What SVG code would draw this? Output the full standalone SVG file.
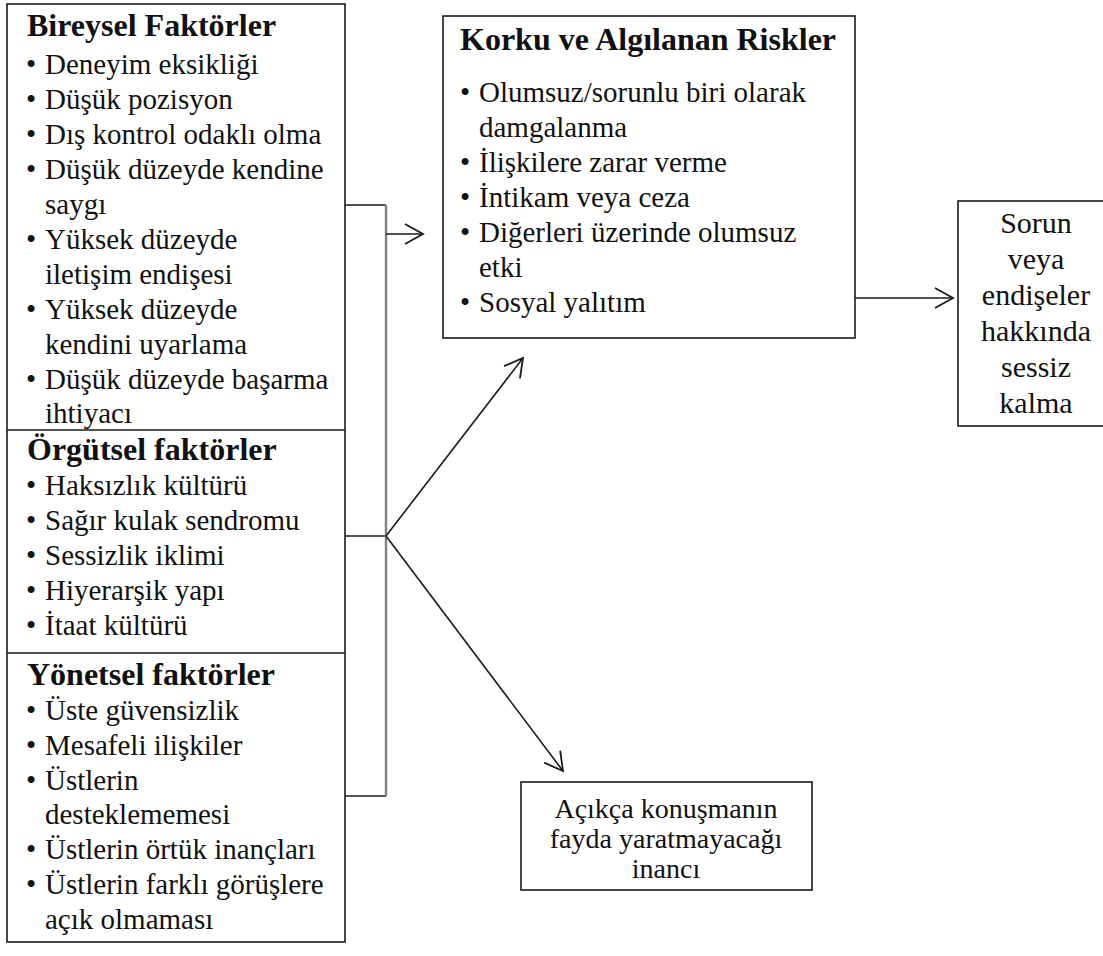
<svg xmlns="http://www.w3.org/2000/svg" width="1103" height="956" viewBox="0 0 1103 956">
<style>
.box{fill:#fff;stroke:#1a1a1a;stroke-width:1.6}
.div{stroke:#1a1a1a;stroke-width:1.6}
text{font-family:"Liberation Serif",Tinos,"Times New Roman","Noto Serif","DejaVu Serif",serif;fill:#111}
.h{font-weight:bold;font-size:32px}
.t{font-size:29px}
.c{font-size:30px;text-anchor:middle}
.c2{font-size:28px;text-anchor:middle}
.ln{fill:none;stroke:#1a1a1a;stroke-width:1.6}
.br{fill:none;stroke:#808080;stroke-width:2.4}
</style>
<defs>
<marker id="arr" markerUnits="userSpaceOnUse" markerWidth="22" markerHeight="24" refX="19" refY="11" orient="auto" viewBox="0 0 22 24">
<path d="M1,1 L19,11 L1,21" fill="none" stroke="#1a1a1a" stroke-width="1.8"/>
</marker>
</defs>

<g id="left-factors">
<rect class="box" x="7" y="4" width="338" height="938"/>
<line class="div" x1="7" y1="430" x2="345" y2="430"/>
<line class="div" x1="7" y1="653" x2="345" y2="653"/>
</g>

<g id="bireysel">
<text class="h" x="27" y="36">Bireysel Faktörler</text>
<text class="t" x="26" y="74">•</text><text class="t" x="45" y="74">Deneyim eksikliği</text>
<text class="t" x="26" y="109">•</text><text class="t" x="45" y="109">Düşük pozisyon</text>
<text class="t" x="26" y="144">•</text><text class="t" x="45" y="144">Dış kontrol odaklı olma</text>
<text class="t" x="26" y="179">•</text><text class="t" x="45" y="179">Düşük düzeyde kendine</text>
<text class="t" x="45" y="214">saygı</text>
<text class="t" x="26" y="249">•</text><text class="t" x="45" y="249">Yüksek düzeyde</text>
<text class="t" x="45" y="284">iletişim endişesi</text>
<text class="t" x="26" y="319">•</text><text class="t" x="45" y="319">Yüksek düzeyde</text>
<text class="t" x="45" y="354">kendini uyarlama</text>
<text class="t" x="26" y="389">•</text><text class="t" x="45" y="389">Düşük düzeyde başarma</text>
<text class="t" x="45" y="423">ihtiyacı</text>
</g>

<g id="orgutsel">
<text class="h" x="27" y="460">Örgütsel faktörler</text>
<text class="t" x="26" y="495">•</text><text class="t" x="45" y="495">Haksızlık kültürü</text>
<text class="t" x="26" y="530">•</text><text class="t" x="45" y="530">Sağır kulak sendromu</text>
<text class="t" x="26" y="565">•</text><text class="t" x="45" y="565">Sessizlik iklimi</text>
<text class="t" x="26" y="600">•</text><text class="t" x="45" y="600">Hiyerarşik yapı</text>
<text class="t" x="26" y="635">•</text><text class="t" x="45" y="635">İtaat kültürü</text>
</g>

<g id="yonetsel">
<text class="h" x="27" y="685">Yönetsel faktörler</text>
<text class="t" x="26" y="720">•</text><text class="t" x="45" y="720">Üste güvensizlik</text>
<text class="t" x="26" y="755">•</text><text class="t" x="45" y="755">Mesafeli ilişkiler</text>
<text class="t" x="26" y="790">•</text><text class="t" x="45" y="790">Üstlerin</text>
<text class="t" x="45" y="824">desteklememesi</text>
<text class="t" x="26" y="859">•</text><text class="t" x="45" y="859">Üstlerin örtük inançları</text>
<text class="t" x="26" y="894">•</text><text class="t" x="45" y="894">Üstlerin farklı görüşlere</text>
<text class="t" x="45" y="929">açık olmaması</text>
</g>

<g id="korku">
<rect class="box" x="443" y="16" width="412" height="322"/>
<text class="h" x="460" y="50">Korku ve Algılanan Riskler</text>
<text class="t" x="460" y="102">•</text><text class="t" x="479" y="102">Olumsuz/sorunlu biri olarak</text>
<text class="t" x="479" y="137">damgalanma</text>
<text class="t" x="460" y="172">•</text><text class="t" x="479" y="172">İlişkilere zarar verme</text>
<text class="t" x="460" y="207">•</text><text class="t" x="479" y="207">İntikam veya ceza</text>
<text class="t" x="460" y="242">•</text><text class="t" x="479" y="242">Diğerleri üzerinde olumsuz</text>
<text class="t" x="479" y="277">etki</text>
<text class="t" x="460" y="312">•</text><text class="t" x="479" y="312">Sosyal yalıtım</text>
</g>

<g id="sorun">
<rect class="box" x="958" y="201" width="156" height="225"/>
<text class="c" x="1036" y="233">Sorun</text>
<text class="c" x="1036" y="269">veya</text>
<text class="c" x="1036" y="305">endişeler</text>
<text class="c" x="1036" y="341">hakkında</text>
<text class="c" x="1036" y="377">sessiz</text>
<text class="c" x="1036" y="413">kalma</text>
</g>

<g id="inanc">
<rect class="box" x="521" y="782" width="291" height="108"/>
<text class="c2" x="666" y="818">Açıkça konuşmanın</text>
<text class="c2" x="666" y="848">fayda yaratmayacağı</text>
<text class="c2" x="666" y="878">inancı</text>
</g>

<g id="connectors">
<line class="ln" x1="345" y1="205" x2="386" y2="205"/>
<line class="ln" x1="345" y1="536" x2="386" y2="536"/>
<line class="ln" x1="345" y1="796" x2="386" y2="796"/>
<line class="br" x1="386" y1="205" x2="386" y2="796"/>
<line class="ln" x1="386" y1="234" x2="423" y2="234" marker-end="url(#arr)"/>
<line class="ln" x1="386" y1="536" x2="523" y2="358" marker-end="url(#arr)"/>
<line class="ln" x1="386" y1="536" x2="563" y2="771" marker-end="url(#arr)"/>
<line class="ln" x1="855" y1="298" x2="953" y2="298" marker-end="url(#arr)"/>
</g>
</svg>
